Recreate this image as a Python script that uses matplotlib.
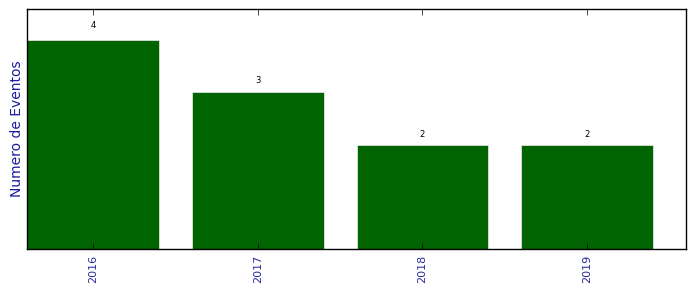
import matplotlib
matplotlib.use("Agg")
import matplotlib.pyplot as plt

anos = ["2016", "2017", "2018", "2019"]
eventos = [4, 3, 2, 2]

plt.style.use("classic")
fig = plt.figure(figsize=(6.96, 2.92), dpi=100)
ax = fig.add_axes([27 / 696, 43 / 292, 659 / 696, 240 / 292])

x = range(len(anos))
barras = ax.bar(x, eventos, width=0.8, align="center", color="#006400",
                edgecolor="#e0e0e0", linewidth=0.6)
for b, v in zip(barras, eventos):
    ax.text(b.get_x() + b.get_width() / 2, 1.05 * v, str(v),
            ha="center", va="bottom", fontsize=6)

ax.set_xlim(-0.4, 3.6)
ax.set_ylim(0, max(eventos) * 1.15)
ax.set_xticks(list(x))
ax.set_xticklabels(anos, rotation=90, fontsize=8, color="#2a2aa0")
ax.set_yticks([])
ax.set_ylabel("Numero de Eventos", fontsize=10, color="#1a1aa0", labelpad=2)

fig.savefig("out.png", dpi=100)
